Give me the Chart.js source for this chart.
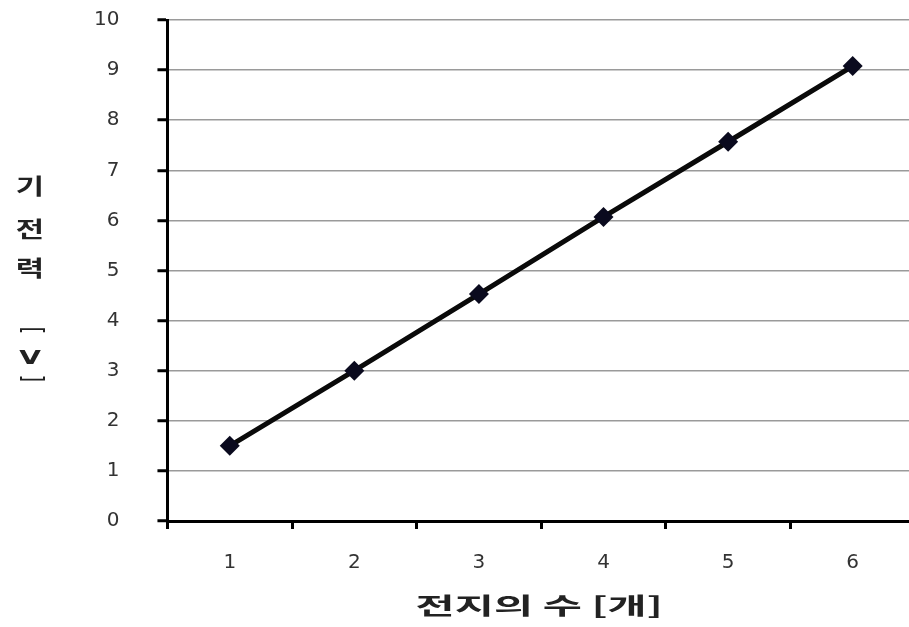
<!DOCTYPE html>
<html>
<head>
<meta charset="utf-8">
<script src="https://cdn.jsdelivr.net/npm/chart.js@4"></script>
<style>
  body { margin: 0; overflow: hidden; background: #fff; }
  canvas { display: block; }
</style>
</head>
<body>
<canvas id="chart" width="925" height="627"></canvas>
<script>
// data
const cells = ['1', '2', '3', '4', '5', '6'];
const voltage = [1.5, 3.0, 4.53, 6.07, 7.57, 9.08];
const yTitleLines = ['기', '전', '력', '[', 'V', ']'];
const xTitle = '전지의 수 [개]';

// the titles look horizontally stretched in the original, so draw them by hand
const titles = {
  id: 'titles',
  afterDraw(chart) {
    const ctx = chart.ctx;
    const area = chart.chartArea;
    const mid = (area.top + area.bottom) / 2;
    const offs = [-85, -42, -3, 60, 88, 108];
    ctx.save();
    ctx.fillStyle = '#222';
    ctx.textAlign = 'center';
    ctx.textBaseline = 'middle';
    yTitleLines.forEach((t, i) => {
      ctx.save();
      ctx.translate(30, mid + offs[i]);
      if (t === '[' || t === ']') {
        ctx.rotate(Math.PI / 2);
        ctx.scale(1, 1.4);
      } else {
        ctx.scale(1.4, 1);
      }
      ctx.font = (t === 'V' ? 'bold 20px "DejaVu Sans"' :
                  t === '[' || t === ']' ? '20px "DejaVu Sans"' : 'bold 22px "Noto Sans CJK KR"');
      ctx.fillText(t, 0, 0);
      ctx.restore();
    });
    ctx.translate((area.left + area.right) / 2 - 2, 605);
    ctx.scale(1.85, 1);
    ctx.font = 'bold 23px "Noto Sans CJK KR"';
    ctx.fillText(xTitle, 0, 0);
    ctx.restore();
  }
};

new Chart(document.getElementById('chart').getContext('2d'), {
  type: 'line',
  data: {
    labels: cells,
    datasets: [{
      data: voltage,
      borderColor: '#0a0a0a',
      backgroundColor: '#0a0a1e',
      borderWidth: 5,
      pointStyle: 'rectRot',
      pointRadius: 10,
      pointBorderWidth: 0,
      tension: 0
    }]
  },
  options: {
    responsive: false,
    animation: false,
    layout: { padding: { left: 56, top: 20, right: 8, bottom: 30 } },
    plugins: { legend: { display: false }, tooltip: { enabled: false } },
    scales: {
      x: {
        offset: true,
        grid: {
          offset: true,
          drawOnChartArea: false,
          drawTicks: true,
          tickLength: 8,
          tickWidth: 3,
          tickColor: '#000'
        },
        border: { color: '#000', width: 3 },
        ticks: { color: '#333', padding: 22, font: { family: 'DejaVu Sans', size: 20 } }
      },
      y: {
        min: 0,
        max: 10,
        ticks: { stepSize: 1, color: '#333', padding: 38, font: { family: 'DejaVu Sans', size: 20 } },
        grid: {
          color: '#9a9a9a',
          lineWidth: 1.5,
          tickLength: 10,
          tickWidth: 3,
          tickColor: '#000'
        },
        border: { color: '#000', width: 3 },
        // the big label gap should not push the plot down
        afterFit(scale) {
          scale.paddingTop = 10;
          scale.paddingBottom = 10;
        }
      }
    }
  },
  plugins: [titles]
});
</script>
</body>
</html>
